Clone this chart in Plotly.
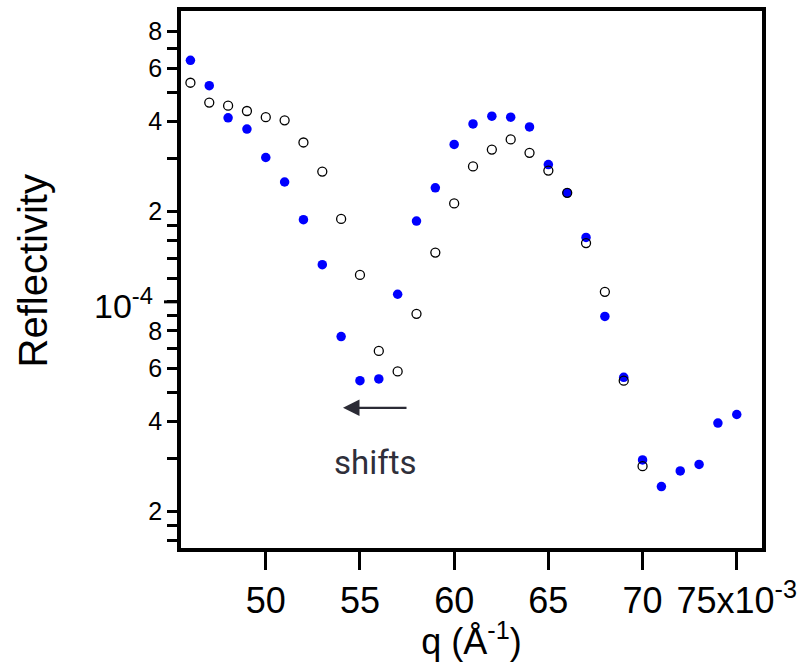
import math
import plotly.graph_objects as go

# Scattering vector q (1/Angstrom)
q_filled = [0.046, 0.047, 0.048, 0.049, 0.050, 0.051, 0.052, 0.053, 0.054, 0.055,
            0.056, 0.057, 0.058, 0.059, 0.060, 0.061, 0.062, 0.063, 0.064, 0.065,
            0.066, 0.067, 0.068, 0.069, 0.070, 0.071, 0.072, 0.073, 0.074, 0.075]
refl_filled = [6.39e-4, 5.26e-4, 4.11e-4, 3.77e-4, 3.03e-4, 2.51e-4, 1.88e-4, 1.33e-4, 7.66e-5, 5.46e-5,
               5.53e-5, 1.06e-4, 1.86e-4, 2.40e-4, 3.35e-4, 3.92e-4, 4.16e-4, 4.13e-4, 3.83e-4, 2.87e-4,
               2.31e-4, 1.64e-4, 8.94e-5, 5.60e-5, 2.97e-5, 2.42e-5, 2.73e-5, 2.87e-5, 3.94e-5, 4.21e-5]

q_open = [0.046, 0.047, 0.048, 0.049, 0.050, 0.051, 0.052, 0.053, 0.054, 0.055,
          0.056, 0.057, 0.058, 0.059, 0.060, 0.061, 0.062, 0.063, 0.064, 0.065,
          0.066, 0.067, 0.068, 0.069, 0.070]
refl_open = [5.38e-4, 4.62e-4, 4.51e-4, 4.33e-4, 4.13e-4, 4.03e-4, 3.40e-4, 2.72e-4, 1.89e-4, 1.23e-4,
             6.86e-5, 5.86e-5, 9.12e-5, 1.46e-4, 2.13e-4, 2.83e-4, 3.22e-4, 3.48e-4, 3.14e-4, 2.74e-4,
             2.31e-4, 1.57e-4, 1.08e-4, 5.46e-5, 2.83e-5]

# Axis ticks
x_tickvals = [0.050, 0.055, 0.060, 0.065, 0.070, 0.075]
x_ticktext = ["50", "55", "60", "65", "70", "75x10<sup>-3</sup>"]

y_labeled_vals = [2e-5, 4e-5, 6e-5, 8e-5, 1e-4, 2e-4, 4e-4, 6e-4, 8e-4]
y_labeled_text = ["2", "4", "6", "8", "", "2", "4", "6", "8"]
y_minor_vals = [1.6e-5, 1.8e-5, 3e-5, 5e-5, 7e-5, 9e-5,
                1.2e-4, 1.4e-4, 1.6e-4, 1.8e-4, 3e-4, 5e-4, 7e-4]
y_decade = 1e-4

FONT = "Arial, Liberation Sans, sans-serif"
INK = "#000000"

fig = go.Figure()

fig.add_trace(go.Scatter(
    x=q_filled, y=refl_filled, mode="markers",
    marker=dict(symbol="circle", size=9.5, color="#0000ff", line=dict(width=0)),
    showlegend=False, hoverinfo="x+y",
))
fig.add_trace(go.Scatter(
    x=q_open, y=refl_open, mode="markers",
    marker=dict(symbol="circle-open", size=9, color=INK, line=dict(width=1.3, color=INK)),
    showlegend=False, hoverinfo="x+y",
))

fig.update_layout(
    width=806, height=662,
    margin=dict(l=181, r=44, t=7, b=114),
    paper_bgcolor="white", plot_bgcolor="white",
    font=dict(family=FONT, color=INK),
    xaxis=dict(
        range=[0.04550, 0.07634],
        showgrid=False, zeroline=False,
        showline=True, linewidth=3.5, linecolor=INK, mirror=True,
        ticks="outside", ticklen=18, tickwidth=3, tickcolor=INK,
        tickvals=x_tickvals, ticktext=x_ticktext,
        tickfont=dict(size=36, family=FONT, color=INK),
        title=dict(text="q (Å<sup>-1</sup>)", font=dict(size=36, family=FONT, color=INK), standoff=2),
    ),
    yaxis=dict(
        type="log",
        range=[-4.821, -3.030],
        showgrid=False, zeroline=False,
        showline=True, linewidth=3.5, linecolor=INK, mirror=True,
        ticks="outside", ticklen=10, tickwidth=3, tickcolor=INK,
        tickmode="array", tickvals=y_labeled_vals, ticktext=y_labeled_text,
        tickfont=dict(size=25, family=FONT, color=INK),
        minor=dict(tickmode="array", tickvals=y_minor_vals, ticks="outside",
                   ticklen=10, tickwidth=3, tickcolor=INK, showgrid=False),
        title=dict(text="", font=dict(size=36, family=FONT, color=INK)),
    ),
)

# Y-axis title drawn at a fixed offset left of the plot
fig.add_annotation(xref="paper", x=0, xanchor="center", xshift=-149,
                   yref="paper", y=0.5, yanchor="middle", yshift=8, textangle=-90,
                   text="Reflectivity", showarrow=False,
                   font=dict(size=40, family=FONT, color=INK))

# Longer tick and label for the decade 10^-4
fig.add_shape(type="line", xref="paper", xsizemode="pixel", xanchor=0,
              x0=-17, x1=0, yref="y", y0=y_decade, y1=y_decade,
              line=dict(color=INK, width=3))
fig.add_annotation(xref="paper", x=0, xanchor="right", xshift=-26,
                   yref="y", y=math.log10(y_decade), yanchor="middle", yshift=-2,
                   text="10<sup>-4</sup>", showarrow=False,
                   font=dict(size=34, family=FONT, color=INK))

# Arrow marking the shift direction
arrow_y = math.log10(4.43e-5)
fig.add_annotation(x=0.0541, y=arrow_y, ax=0.05755, ay=arrow_y,
                   xref="x", yref="y", axref="x", ayref="y",
                   text="", showarrow=True, arrowhead=2, arrowsize=1.5,
                   arrowwidth=2.2, arrowcolor="#2b2b35")
fig.add_annotation(x=0.05585, y=math.log10(2.91e-5), xref="x", yref="y",
                   text="shifts", showarrow=False,
                   font=dict(size=33, family="Roboto, Arial, sans-serif", color="#2f2f3a"))

fig.write_html("out.html")
